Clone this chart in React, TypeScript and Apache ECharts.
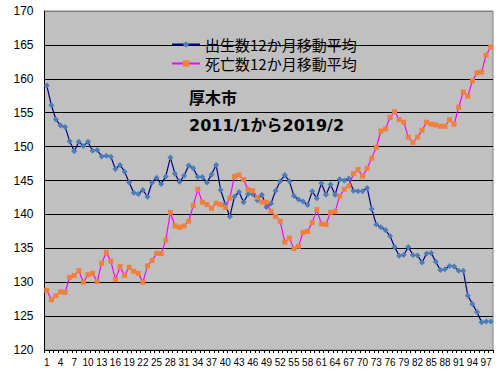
import React, { useEffect, useRef } from "react";
import * as echarts from "echarts";

const months: string[] = [
  "1","2","3","4","5","6","7","8","9","10","11","12","13","14","15","16","17","18","19","20",
  "21","22","23","24","25","26","27","28","29","30","31","32","33","34","35","36","37","38","39","40",
  "41","42","43","44","45","46","47","48","49","50","51","52","53","54","55","56","57","58","59","60",
  "61","62","63","64","65","66","67","68","69","70","71","72","73","74","75","76","77","78","79","80",
  "81","82","83","84","85","86","87","88","89","90","91","92","93","94","95","96","97","98",
];

const births: number[] = [
  159.0, 156.1, 154.0, 153.1, 152.9, 150.8, 149.3, 150.7, 150.1, 150.7,
  149.4, 149.5, 148.55, 148.65, 148.5, 146.7, 147.3, 146.3, 144.7, 143.2,
  143.0, 143.6, 142.6, 144.7, 145.4, 144.5, 145.6, 148.4, 146.0, 144.8,
  145.7, 147.2, 146.8, 145.5, 145.5, 144.7, 145.9, 147.3, 143.6, 141.5,
  139.7, 142.6, 143.3, 141.8, 143.0, 143.0, 142.1, 142.9, 141.1, 141.6,
  143.5, 144.9, 145.8, 144.9, 142.7, 142.2, 141.9, 141.4, 143.4, 142.4,
  144.6, 142.9, 144.4, 142.9, 145.2, 145.0, 145.3, 143.5, 143.4, 143.4,
  143.9, 140.8, 138.5, 138.1, 137.7, 136.8, 135.2, 133.9, 134.0, 135.2,
  134.0, 133.95, 132.9, 134.25, 134.3, 133.0, 131.8, 131.9, 132.4, 132.3,
  131.7, 131.7, 128.0, 126.8, 125.6, 124.1, 124.2, 124.2,
];

const deaths: number[] = [
  128.8, 127.4, 128.0, 128.6, 128.5, 130.7, 131.0, 131.7, 130.0, 131.1,
  131.3, 130.1, 132.8, 134.4, 133.1, 130.4, 132.3, 131.0, 132.2, 131.6,
  131.3, 130.0, 132.4, 133.2, 134.25, 134.25, 136.2, 140.3, 138.3, 138.1,
  138.3, 139.0, 141.3, 143.7, 141.8, 141.45, 140.9, 141.65, 141.45, 141.05,
  142.4, 145.6, 145.8, 145.15, 143.65, 143.5, 142.5, 141.8, 141.8, 140.45,
  139.7, 139.0, 135.9, 136.5, 134.95, 135.3, 137.35, 137.5, 138.8, 140.7,
  138.6, 138.5, 140.3, 140.4, 142.7, 143.7, 144.2, 146.0, 146.6, 145.65,
  146.8, 148.3, 149.9, 152.3, 152.6, 154.3, 155.15, 154.0, 153.6, 151.4,
  150.6, 151.4, 152.4, 153.6, 153.3, 153.2, 153.0, 153.0, 153.95, 153.3,
  155.8, 158.05, 157.45, 159.7, 160.9, 161.0, 163.5, 164.7,
];

const seriesNames: string[] = ["出生数12か月移動平均", "死亡数12か月移動平均"];
const titleLines: string[] = ["厚木市", "2011/1から2019/2"];

export default function App() {
  const ref = useRef<HTMLDivElement>(null);
  useEffect(() => {
    if (!ref.current) return;
    const chart = echarts.init(ref.current, null, { renderer: "svg" });
    const cjk = "'Noto Sans CJK JP', sans-serif";
    const latin = "'Liberation Sans', Arial, sans-serif";
    chart.setOption({
      animation: false,
      backgroundColor: "#ffffff",
      grid: {
        left: 44.5,
        right: 11,
        top: 11,
        bottom: 24,
        show: true,
        backgroundColor: "#c0c0c0",
        borderColor: "#808080",
        borderWidth: 1,
      },
      legend: {
        orient: "vertical",
        left: 166,
        top: 32,
        itemWidth: 28,
        itemHeight: 8,
        itemGap: 4,
        textStyle: { fontFamily: cjk, fontSize: 15, lineHeight: 15, color: "#000" },
        data: seriesNames,
      },
      graphic: [
        {
          type: "text",
          left: 189,
          top: 89,
          z: 10,
          style: {
            text: titleLines[0],
            font: "bold 16px " + cjk,
            fill: "#000",
          },
        },
        {
          type: "text",
          left: 189,
          top: 117,
          z: 10,
          style: {
            text: titleLines[1],
            font: "bold 16px 'DejaVu Sans', 'Noto Sans CJK JP', sans-serif",
            fill: "#000",
          },
        },
      ],
      xAxis: {
        type: "category",
        data: months,
        boundaryGap: true,
        axisLine: { lineStyle: { color: "#000", width: 1 } },
        axisTick: { show: true, interval: 0, length: 3, lineStyle: { color: "#000" } },
        axisLabel: {
          interval: 2,
          fontFamily: latin,
          fontSize: 10,
          color: "#000",
          margin: 7,
        },
        splitLine: { show: false },
      },
      yAxis: {
        type: "value",
        min: 120,
        max: 170,
        interval: 5,
        axisLine: { show: true, lineStyle: { color: "#000", width: 1 } },
        axisTick: { show: false },
        axisLabel: { fontFamily: latin, fontSize: 12, color: "#000", margin: 11 },
        splitLine: {
          show: true,
          lineStyle: {
            color: ["#000", "#000", "#000", "#000", "#000", "#000", "#000", "#000", "#000", "#000", "#808080"],
            width: 1,
          },
        },
      },
      series: [
        {
          name: seriesNames[0],
          type: "line",
          data: births,
          symbol: "diamond",
          symbolSize: 6,
          showAllSymbol: true,
          lineStyle: { color: "#000080", width: 1.2 },
          itemStyle: { color: "#4a7ebb", borderWidth: 0 },
          z: 2,
        },
        {
          name: seriesNames[1],
          type: "line",
          data: deaths,
          symbol: "rect",
          symbolSize: 5,
          showAllSymbol: true,
          lineStyle: { color: "#ff00ff", width: 1.2 },
          itemStyle: { color: "#f0803c", borderWidth: 0 },
          z: 3,
        },
      ],
    });
    return () => chart.dispose();
  }, []);
  return (
    <div
      ref={ref}
      style={{ position: "fixed", left: 0, top: 0, width: 504, height: 374 }}
    />
  );
}
